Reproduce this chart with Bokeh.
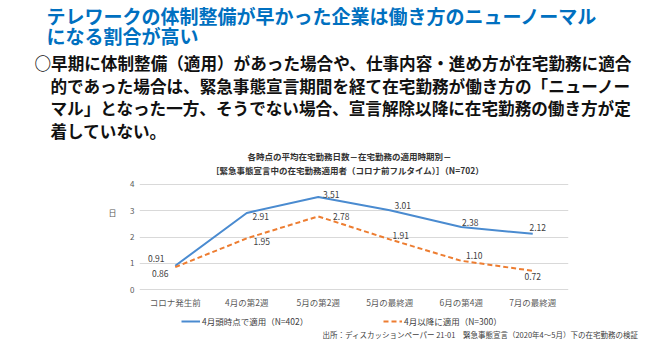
from bokeh.plotting import figure
from bokeh.layouts import column, row
from bokeh.models import (Range1d, FactorRange, FixedTicker, LabelSet,
                          ColumnDataSource, Legend, LegendItem)
from bokeh.core.properties import value
from bokeh.embed import file_html
from bokeh.resources import INLINE

FONT = "Noto Sans CJK JP"

# ---- data ----
categories = ["コロナ発生前", "4月の第2週", "5月の第2週", "5月の最終週", "6月の第4週", "7月の最終週"]
early_days = [0.91, 2.91, 3.51, 3.01, 2.38, 2.12]
late_days = [0.86, 1.95, 2.78, 1.91, 1.10, 0.72]
y_ticks = [0, 1, 2, 3, 4]
early_name = "4月頭時点で適用（N=402）"
late_name = "4月以降に適用（N=300）"

title_lines = ["テレワークの体制整備が早かった企業は働き方のニューノーマル",
               "になる割合が高い"]
body_lines = ["○早期に体制整備（適用）があった場合や、仕事内容・進め方が在宅勤務に適合",
              "的であった場合は、緊急事態宣言期間を経て在宅勤務が働き方の「ニューノー",
              "マル」となった一方、そうでない場合、宣言解除以降に在宅勤務の働き方が定",
              "着していない。"]
chart_title = ["各時点の平均在宅勤務日数－在宅勤務の適用時期別－",
               "［緊急事態宣言中の在宅勤務適用者（コロナ前フルタイム）］（N=702）"]
y_unit = "日"
source_note = "出所：ディスカッションペーパー 21-01　緊急事態宣言（2020年4～5月）下の在宅勤務の検証"

# label offsets (style, pixels; y positive = up)
early_dx = [-19, 14, 13, 13, 9, 5]
early_dy = [7, -4, 3, 5, 4, 6]
late_dx = [-15, 15, 23, 11, 13, 0]
late_dy = [-6, -3, 0, 4, 5, -6]

BLUE = "#4a8bd0"
ORANGE = "#ed7d31"
TXT = "#404040"
W = 654
TOP_H, CHART_H, BOT_H = 176, 134, 29
UNIT_W = 125


def pixel_fig(w, h):
    f = figure(width=w, height=h, x_range=Range1d(0, w), y_range=Range1d(h, 0),
               output_backend="svg", toolbar_location=None, title=None,
               x_axis_type=None, y_axis_type=None,
               min_border=0, min_border_left=0, min_border_right=0,
               min_border_top=0, min_border_bottom=0)
    f.outline_line_color = None
    f.xgrid.visible = False
    f.ygrid.visible = False
    return f


def put(f, xs, ys, texts, size, color, bold=False, align="left"):
    f.text(x=xs, y=ys, text=texts, text_font=value(FONT),
           text_font_size=value(size), text_color=color,
           text_font_style="bold" if bold else "normal",
           text_align=align, text_baseline="middle")


# ---- top texts ----
top = pixel_fig(W, TOP_H)
put(top, [46, 46], [15, 35], title_lines, "19px", "#0070c0", True)
put(top, [34], [62], body_lines[:1], "16.6px", "#111111", True)
put(top, [50, 50, 50], [85, 107.7, 130.4], body_lines[1:], "16.6px", "#111111", True)
put(top, [349, 347], [155, 169], chart_title, "8.5px", "#333333", True, "center")

# ---- unit label at left of chart ----
unit = pixel_fig(UNIT_W, CHART_H)
put(unit, [112], [213 - TOP_H], [y_unit], "8px", "#595959", False, "center")

# ---- chart ----
p = figure(width=W - UNIT_W, height=CHART_H,
           x_range=FactorRange(*categories, range_padding=0),
           y_range=Range1d(-0.1, 4.1),
           output_backend="svg", toolbar_location=None, title=None,
           min_border_left=139 - UNIT_W, min_border_right=W - 568,
           min_border_top=5, min_border_bottom=17)
p.outline_line_color = None

r1 = p.line(categories, early_days, line_color=BLUE, line_width=2)
r2 = p.line(categories, late_days, line_color=ORANGE, line_width=2, line_dash="5 3")

for vals, ox, oy in ((early_days, early_dx, early_dy), (late_days, late_dx, late_dy)):
    src = ColumnDataSource(dict(x=categories, y=vals, t=["%.2f" % v for v in vals],
                                ox=ox, oy=oy))
    p.add_layout(LabelSet(x="x", y="y", text="t", source=src,
                          x_offset="ox", y_offset="oy",
                          text_font=value(FONT), text_font_size=value("8.5px"),
                          text_color=TXT, text_align="center",
                          text_baseline="middle"))

p.yaxis.ticker = FixedTicker(ticks=y_ticks)
p.ygrid.ticker = FixedTicker(ticks=y_ticks)
p.ygrid.grid_line_color = "#d9d9d9"
p.ygrid.grid_line_width = 1
p.xgrid.grid_line_color = None
for ax in (p.xaxis, p.yaxis):
    ax.axis_line_color = None
    ax.major_tick_line_color = None
    ax.minor_tick_line_color = None
    ax.major_tick_out = 0
    ax.major_tick_in = 0
    ax.major_label_text_font = FONT
    ax.major_label_text_color = "#595959"
p.xaxis.major_label_text_font_size = "8.5px"
p.xaxis.major_label_standoff = 3
p.yaxis.major_label_text_font_size = "8px"
p.yaxis.major_label_standoff = 5

# ---- bottom: legend + source ----
bot = pixel_fig(W, BOT_H)
# hidden sample renderers (placed outside the visible range) that only feed the legend
d1 = bot.line(x=[-50, -40], y=[-50, -50], line_color=BLUE, line_width=2)
d2 = bot.line(x=[-50, -40], y=[-50, -50], line_color=ORANGE, line_width=2, line_dash="5 3")
for name, rend, px in ((early_name, d1, 181), (late_name, d2, 383)):
    leg = Legend(items=[LegendItem(label=name, renderers=[rend])],
                 location=(px, 12), orientation="horizontal",
                 border_line_color=None, background_fill_alpha=0,
                 padding=0, margin=0, spacing=0,
                 glyph_width=19, glyph_height=10, label_height=10,
                 label_standoff=2, label_text_font=FONT,
                 label_text_font_size="8.5px", label_text_color=TXT,
                 label_text_baseline="middle")
    bot.add_layout(leg)
put(bot, [638], [24], [source_note], "7.5px", TXT, False, "right")

layout = column(top, row(unit, p, spacing=0), bot, spacing=0)
open("out.html", "w").write(file_html(layout, INLINE))
